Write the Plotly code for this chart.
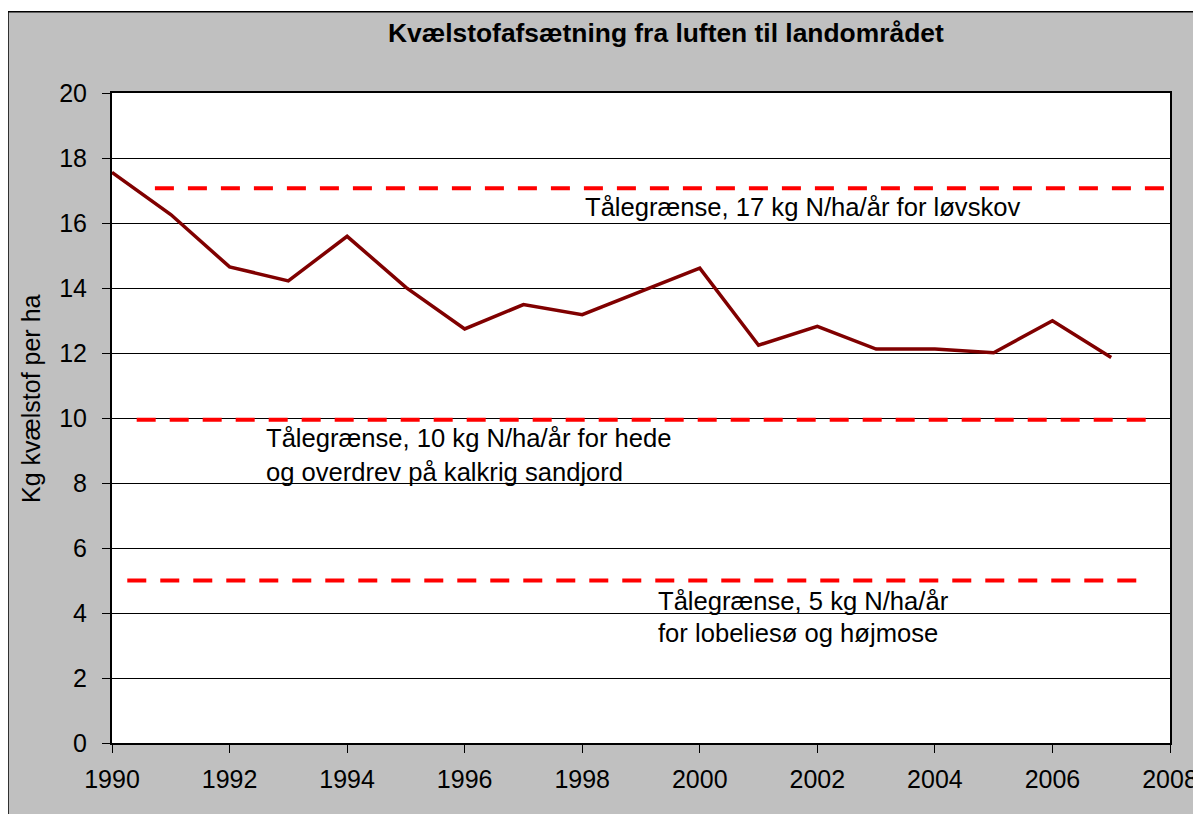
import plotly.graph_objects as go

# ---- data ----
years = [1990, 1991, 1992, 1993, 1994, 1995, 1996, 1997, 1998, 1999,
         2000, 2001, 2002, 2003, 2004, 2005, 2006, 2007]
deposition = [17.56, 16.26, 14.65, 14.22, 15.59, 14.02, 12.74, 13.49, 13.18, 13.89,
              14.61, 12.24, 12.82, 12.12, 12.12, 12.01, 12.99, 11.86]
thresholds = [17.07, 9.95, 5.0]
threshold_labels = [
    ["Tålegrænse, 17 kg N/ha/år for løvskov"],
    ["Tålegrænse, 10 kg N/ha/år for hede", "og overdrev på kalkrig sandjord"],
    ["Tålegrænse, 5 kg N/ha/år", "for lobeliesø og højmose"],
]
title_text = "Kvælstofafsætning fra luften til landområdet"
y_title = "Kg kvælstof per ha"
x_ticks = list(range(1990, 2009, 2))
y_ticks = list(range(0, 21, 2))

# ---- layout helpers (positions / styles) ----
threshold_extent = [(1990.73, 2008.0), (1990.42, 2007.7), (1990.26, 2007.55)]
label_pos = [  # (x start, [y for each line])
    (1998.02, [16.5]),
    (1992.59, [9.39, 8.35]),
    (1999.25, [4.38, 3.39]),
]

FONT = "Liberation Sans, Arial, sans-serif"
OFF = 8  # page body margin offset
W, H = 1201, 814
PW, PH = 1058, 650
ML = 112 - OFF
MT = 93 - OFF
MR = W - ML - PW
MB = H - MT - PH

def px_to_paper_x(px_ref):
    return (px_ref - OFF - ML) / PW

def px_to_paper_y(py_ref):
    return (MT + PH - (py_ref - OFF)) / PH

fig = go.Figure()

for val, (x0, x1) in zip(thresholds, threshold_extent):
    fig.add_trace(go.Scatter(
        x=[x0, x1], y=[val, val], mode="lines",
        line=dict(color="#FF0000", width=4, dash="19px,14px"),
        hoverinfo="skip", showlegend=False))

fig.add_trace(go.Scatter(
    x=years, y=deposition, mode="lines",
    line=dict(color="#800000", width=3.5),
    showlegend=False))

for lines, (lx, lys) in zip(threshold_labels, label_pos):
    for txt, ly in zip(lines, lys):
        fig.add_annotation(x=lx, y=ly, xref="x", yref="y", text=txt,
                           showarrow=False, xanchor="left", yanchor="middle",
                           font=dict(family=FONT, size=25.6, color="black"))

# title
fig.add_annotation(x=px_to_paper_x(665.5), y=px_to_paper_y(33), xref="paper", yref="paper",
                   text="<b>" + title_text + "</b>", showarrow=False,
                   xanchor="center", yanchor="middle",
                   font=dict(family=FONT, size=26.4, color="black"))
# y axis title
fig.add_annotation(x=px_to_paper_x(31), y=px_to_paper_y(399), xref="paper", yref="paper",
                   text=y_title, showarrow=False, textangle=-90,
                   xanchor="center", yanchor="middle",
                   font=dict(family=FONT, size=25, color="black"))

# white strip above the chart frame, and the frame outline
fig.add_shape(type="rect", xref="paper", yref="paper",
              x0=px_to_paper_x(0), x1=px_to_paper_x(1300),
              y0=px_to_paper_y(11.5), y1=px_to_paper_y(-10),
              fillcolor="white", line=dict(width=0), layer="below")
fig.add_shape(type="rect", xref="paper", yref="paper",
              x0=px_to_paper_x(8), x1=px_to_paper_x(1199.5),
              y0=px_to_paper_y(840), y1=px_to_paper_y(11.8),
              fillcolor="rgba(0,0,0,0)", line=dict(color="black", width=1.5), layer="below")

fig.update_layout(
    width=W, height=H,
    margin=dict(l=ML, r=MR, t=MT, b=MB),
    paper_bgcolor="#C0C0C0", plot_bgcolor="white",
    showlegend=False,
    xaxis=dict(range=[1990, 2008], tickvals=x_ticks, ticks="outside", ticklen=8,
               tickcolor="black", tickwidth=1, showgrid=False, zeroline=False,
               showline=True, linecolor="black", linewidth=2, mirror=True,
               tickfont=dict(family=FONT, size=25, color="black"),
               ticklabelstandoff=5),
    yaxis=dict(range=[0, 20], tickvals=y_ticks, ticks="outside", ticklen=8,
               tickcolor="black", tickwidth=1, showgrid=True, gridcolor="black",
               gridwidth=1, zeroline=False,
               showline=True, linecolor="black", linewidth=2, mirror=True,
               tickfont=dict(family=FONT, size=25, color="black"),
               ticklabelstandoff=10),
)

fig.write_html("out.html")
